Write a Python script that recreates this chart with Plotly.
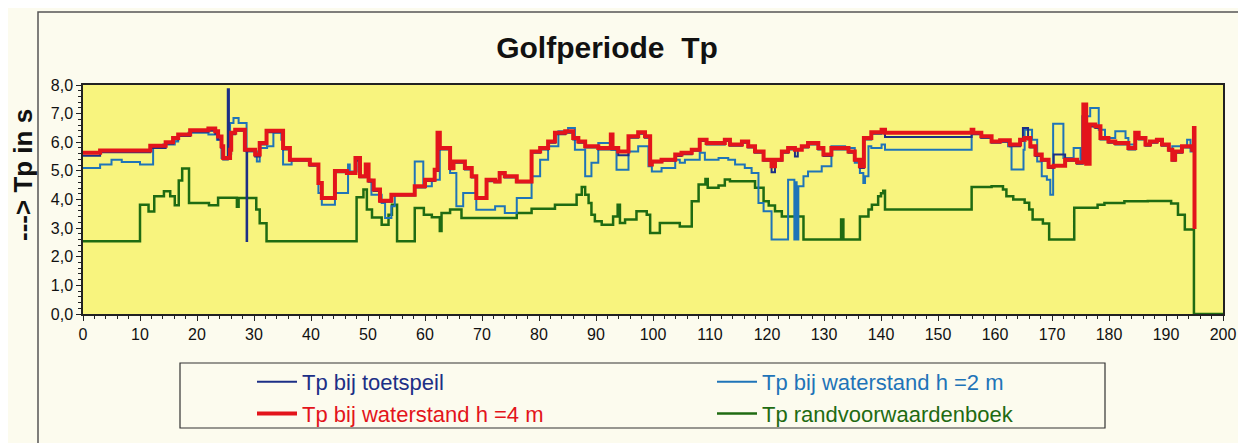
import plotly.graph_objects as go

# ---- data (step series, x = start of each step) ----
x_h4 = [0, 3.0, 11.8, 14.5, 15.8, 16.7, 18.8, 22.0, 23.2, 23.7, 24.3, 24.6, 25.8, 26.0, 26.7, 28.4, 30.2, 31.0,
        32.2, 35.1, 36.3, 39.8, 41.3, 41.9, 44.2, 46.3, 47.8, 48.6, 49.6, 50.1, 51.0, 52.1, 54.1, 58.2, 60.0,
        61.7, 62.2, 62.6, 64.4, 65.0, 67.0, 68.2, 69.0, 70.8, 72.3, 73.1, 74.0, 76.1, 78.7, 80.2, 81.6, 82.8,
        84.6, 86.0, 86.9, 88.1, 90.4, 92.6, 92.9, 93.9, 95.7, 97.4, 98.6, 99.5, 99.8, 101.5, 103.9, 105.0,
        106.8, 108.2, 109.4, 112.6, 113.5, 115.6, 116.7, 117.9, 119.4, 120.8, 121.4, 122.6, 123.7, 124.9,
        126.1, 127.2, 129.0, 129.9, 131.3, 134.3, 135.4, 136.3, 137.0, 138.3, 140.1, 140.7, 155.9, 156.2,
        157.6, 159.4, 160.9, 162.6, 164.4, 165.2, 166.2, 167.1, 168.2, 169.4, 170.3, 172.3, 174.4, 175.5,
        176.0, 176.6, 177.6, 178.5, 179.9, 181.1, 183.4, 184.6, 185.2, 186.4, 187.2, 188.4, 189.3, 190.5,
        191.1, 191.6, 192.8, 194.6, 194.9, 195.0]
y_h4 = [5.63, 5.71, 5.88, 6.0, 6.15, 6.27, 6.42, 6.48, 6.38, 6.2, 5.86, 5.45, 5.74, 6.33, 6.44, 5.74, 5.57, 5.97,
        6.4, 5.8, 5.39, 5.22, 4.58, 4.05, 5.0, 4.93, 5.45, 4.81, 5.22, 4.66, 4.35, 3.96, 4.17, 4.46, 4.69,
        5.04, 6.33, 5.8, 5.1, 5.33, 5.1, 4.81, 4.05, 4.69, 4.63, 4.93, 4.81, 4.63, 5.68, 5.8, 6.03, 6.33,
        6.38, 6.15, 6.03, 5.86, 5.8, 6.27, 5.8, 5.68, 6.21, 6.35, 6.21, 5.22, 5.33, 5.39, 5.57, 5.63,
        5.74, 6.09, 5.97, 6.09, 5.92, 6.03, 5.86, 5.68, 5.39, 5.16, 5.39, 5.68, 5.8, 5.74,
        5.86, 5.97, 5.8, 5.57, 5.8, 5.68, 5.39, 5.16, 6.15, 6.35, 6.44, 6.33, 6.44, 6.33,
        6.21, 6.03, 6.07, 5.92, 6.09, 6.15, 5.86, 5.57, 5.39, 5.14, 5.18, 5.39, 5.30, 7.32,
        5.25, 6.62, 6.56, 6.15, 6.03, 5.97, 5.8, 6.33, 6.15, 5.92, 6.03, 6.09, 5.92, 5.74,
        5.39, 5.68, 5.86, 5.74, 6.5, 2.97]

x_toets = [0, 3.0, 11.8, 14.5, 15.8, 16.7, 18.8, 22.0, 23.2, 23.7, 24.3, 24.6, 25.4, 25.6, 26.0, 26.7, 28.4, 28.7,
           28.8, 30.2, 31.0, 32.2, 35.1, 36.3, 39.8, 41.3, 41.9, 44.2, 46.3, 47.8, 48.6, 49.6, 50.1, 51.0, 52.1,
           54.1, 58.2, 60.0, 61.7, 62.3, 64.4, 65.0, 67.0, 68.2, 69.0, 70.8, 72.3, 73.1, 74.0, 76.1, 78.7,
           80.2, 81.6, 82.8, 84.6, 86.0, 86.9, 88.1, 90.4, 93.9, 95.7, 97.4, 98.6, 99.5, 99.8, 101.5, 103.9,
           105.0, 106.8, 108.2, 109.4, 112.6, 113.5, 115.6, 116.7, 117.9, 119.4, 120.8, 121.4, 122.6, 123.7,
           124.9, 125.4, 126.1, 127.2, 129.0, 129.9, 131.3, 134.3, 135.4, 136.3, 137.0, 138.3, 140.1, 140.7,
           155.9, 156.2, 157.6, 159.4, 160.9, 162.6, 164.4, 164.9, 165.8, 166.2, 167.1, 168.2, 169.4, 170.3,
           172.3, 174.4, 175.4, 176.6, 177.6, 178.5, 179.9, 181.1, 183.4, 184.6, 185.2, 186.4, 187.2, 188.4,
           189.3, 190.5, 191.1, 191.6, 192.8, 194.6, 194.9]
y_toets = [5.53, 5.65, 5.8, 5.95, 6.1, 6.22, 6.37, 6.4, 6.3, 6.1, 5.8, 5.4, 7.85, 5.6, 6.28, 6.4, 5.7, 2.55,
           5.7, 5.5, 5.92, 6.35, 5.75, 5.35, 5.18, 4.55, 4.02, 4.95, 4.9, 5.35, 4.78, 5.15, 4.62, 4.3, 3.92,
           4.14, 4.42, 4.65, 5.0, 5.75, 5.06, 5.28, 5.05, 4.77, 4.02, 4.64, 4.6, 4.88, 4.77, 4.6, 5.63,
           5.75, 5.98, 6.28, 6.33, 6.1, 5.98, 5.82, 5.75, 5.55, 6.16, 6.3, 6.16, 5.2, 5.3, 5.35, 5.52,
           5.58, 5.7, 6.04, 5.92, 6.04, 5.88, 5.98, 5.82, 5.63, 5.35, 4.95, 5.35, 5.63, 5.75,
           5.5, 5.75, 5.82, 5.92, 5.75, 5.52, 5.75, 5.63, 5.35, 5.1, 6.1, 6.3, 6.38, 6.18,
           6.38, 6.28, 6.16, 5.98, 6.02, 5.86, 6.04, 6.5, 6.1, 5.82, 5.52, 5.35, 5.1, 5.57,
           5.35, 5.25, 5.6, 6.55, 6.5, 6.1, 5.98, 5.92, 5.75, 6.28, 6.1, 5.88, 5.98, 6.04,
           5.88, 5.7, 5.35, 5.63, 5.82, 5.7, 5.7]

x_h2 = [0, 3.0, 5.0, 6.8, 10.0, 12.3, 14.1, 16.1, 16.7, 18.5, 22.0, 23.5, 24.3, 25.8, 26.4, 27.3, 28.7, 30.5,
        31.0, 32.3, 33.4, 34.8, 35.1, 36.6, 39.8, 41.3, 41.9, 44.2, 46.5, 46.8, 48.0, 48.6, 49.6, 50.1, 50.6,
        52.4, 53.0, 54.1, 54.7, 58.2, 59.7, 61.2, 62.6, 64.4, 65.5, 66.7, 69.0, 72.3, 74.0, 76.1, 78.7,
        80.2, 81.6, 83.4, 85.1, 86.3, 88.1, 89.2, 90.4, 92.7, 93.6, 95.7, 97.4, 99.2, 99.8, 101.5, 103.9,
        104.7, 105.6, 108.2, 109.1, 111.5, 113.2, 114.4, 116.1, 117.3, 118.5, 119.4, 120.8, 123.7, 124.8,
        125.0, 125.2, 125.5, 126.4, 127.2, 129.6, 131.3, 133.7, 135.4, 136.3, 136.9, 137.2, 137.8, 138.3,
        140.1, 140.7, 155.9, 157.6, 159.4, 162.3, 162.9, 165.0, 165.2, 166.5, 167.4, 168.2, 169.1, 169.7,
        170.2, 172.0, 173.8, 175.0, 175.3, 176.7, 178.2, 179.3, 181.1, 182.9, 183.4, 184.6, 185.2, 186.4,
        187.2, 188.4, 189.3, 190.5, 191.1, 193.7, 194.3, 194.9]
y_h2 = [5.1, 5.22, 5.39, 5.31, 5.22, 5.8, 5.92, 6.03, 6.27, 6.33, 6.27, 6.09, 5.45, 6.67, 6.85, 6.67, 5.68, 5.33,
        5.8, 5.86, 6.33, 6.09, 5.22, 5.39, 5.22, 4.23, 3.82, 4.23, 5.22, 4.98, 5.4, 4.81, 5.1, 4.69, 4.17,
        3.88, 3.35, 3.76, 4.17, 5.33, 4.46, 4.69, 5.8, 4.93, 3.76, 4.23, 3.64, 3.76, 3.53, 4.05, 4.81,
        5.39, 5.86, 6.38, 6.5, 5.74, 4.81, 5.28, 5.97, 5.74, 5.04, 5.68, 5.86, 5.16, 4.98, 5.1, 5.39,
        5.28, 5.39, 5.63, 5.39, 5.45, 5.39, 5.22, 5.1, 4.93, 3.88, 3.59, 2.6, 4.69, 2.6,
        4.6, 2.6, 4.46, 4.81, 4.98, 5.16, 5.86, 5.8, 5.28, 4.93, 4.58, 4.81, 5.86, 5.8,
        5.92, 5.74, 6.33, 6.15, 6.03, 5.86, 5.05, 5.74, 6.44, 6.09, 5.33, 4.81, 4.69, 4.17,
        6.65, 5.45, 5.8, 5.39, 6.91, 7.2, 6.44, 6.15, 6.38, 6.15, 5.92, 6.33, 6.15, 5.92,
        6.03, 6.09, 5.92, 5.74, 5.86, 6.09, 5.68, 5.68]

x_rvb = [0, 10.0, 11.5, 12.5, 14.2, 15.3, 16.1, 16.8, 17.4, 18.6, 22.1, 23.7, 27.0, 27.3, 30.4, 31.0, 32.2,
         48.0, 49.2, 49.8, 50.7, 52.4, 53.6, 54.2, 55.1, 58.2, 59.8, 61.2, 62.6, 62.9, 64.4, 66.4, 76.1,
         78.7, 82.8, 86.6, 87.5, 88.1, 88.7, 89.2, 89.8, 91.0, 93.0, 93.8, 94.2, 95.1, 97.1, 98.9, 99.5,
         101.2, 104.7, 106.8, 108.0, 109.2, 109.6, 111.5, 112.6, 113.5, 117.9, 119.4, 120.3, 121.4, 122.6,
         126.4, 133.0, 133.4, 136.3, 137.8, 138.4, 139.5, 140.0, 140.4, 140.7, 155.9, 159.4, 161.4, 162.0,
         163.2, 165.2, 166.0, 166.6, 168.4, 169.5, 173.9, 178.0, 179.2, 182.7, 186.8, 190.9, 192.1, 193.3,
         194.9, 200.0]
y_rvb = [2.54, 3.82, 3.58, 4.11, 4.29, 4.11, 3.8, 4.66, 5.08, 3.88, 3.8, 4.06, 3.75, 4.05, 3.65, 3.17, 2.54,
         4.08, 4.35, 3.65, 3.37, 3.12, 3.47, 3.82, 2.54, 3.7, 3.47, 3.38, 2.9, 3.53, 3.65, 3.35, 3.53,
         3.68, 3.82, 4.17, 4.44, 4.17, 3.88, 3.47, 3.24, 3.12, 3.41, 3.82, 3.18, 3.3, 3.59, 3.47, 2.83,
         3.18, 3.06, 3.94, 4.52, 4.72, 4.41, 4.49, 4.7, 4.64, 4.41, 3.94, 3.79, 3.59, 3.41,
         2.6, 3.3, 2.6, 3.41, 3.65, 3.82, 4.11, 4.22, 4.31, 3.65, 4.44, 4.46, 4.35, 4.11,
         4.0, 3.89, 3.65, 3.3, 3.16, 2.6, 3.71, 3.82, 3.88, 3.94, 3.95, 3.86, 3.47, 2.95,
         0.0, 0.0]

names = ["Tp bij toetspeil", "Tp bij waterstand h =2 m", "Tp bij waterstand h =4 m", "Tp randvoorwaardenboek"]
colors = ["#1c2f86", "#1f74b8", "#e3141b", "#1f6b12"]

FONT = "Liberation Sans, Arial, sans-serif"

fig = go.Figure()
series = [
    (x_rvb, y_rvb, 3, 2.5, 4),
    (x_h2, y_h2, 1, 2.0, 2),
    (x_toets, y_toets, 0, 2.0, 1),
    (x_h4, y_h4, 2, 4.0, 3),
]
for xs, ys, idx, w, rank in series:
    fig.add_trace(go.Scatter(
        x=xs, y=ys, mode="lines", line=dict(color=colors[idx], width=w, shape="hv"),
        name="<span style='color:%s'>%s</span>" % (colors[idx], names[idx]),
        legendrank=rank, hoverinfo="skip"))

# page offset of the figure (default body margin)
OFF = 8
W, H = 1246, 443
# plot area in page pixels: x 83..1223, y 85..314
L = 83 - OFF
T = 85 - OFF
R = W - (1223 - OFF)
B = H - (314 - OFF)
pw, ph = W - L - R, H - T - B


def px(xp):
    return (xp - OFF - L) / pw


def py(yp):
    return (H - B - (yp - OFF)) / ph


fig.update_layout(
    width=W, height=H,
    margin=dict(l=L, r=R, t=T, b=B),
    paper_bgcolor="#fcfbee",
    plot_bgcolor="#f8f47e",
    separators=",.",
    showlegend=True,
    legend=dict(orientation="h", x=px(252), y=py(361), xanchor="left", yanchor="top",
                entrywidth=405, font=dict(family=FONT, size=22),
                bgcolor="rgba(0,0,0,0)", borderwidth=0, tracegroupgap=0, itemwidth=40),
    title=dict(text="<b>Golfperiode  Tp</b>", x=(607 - OFF) / W, xanchor="center",
               y=1 - (47 - OFF) / H, yanchor="middle",
               font=dict(family=FONT, size=30, color="#111")),
    xaxis=dict(range=[0, 200], dtick=10, tick0=0, ticks="outside", ticklen=5, tickwidth=1.2,
               tickcolor="#222", showline=True, linecolor="#222", linewidth=1.5, mirror=True,
               showgrid=False, zeroline=False, tickfont=dict(family=FONT, size=16, color="#111"),
               minor=dict(dtick=2, ticks="outside", ticklen=3, tickcolor="#222", showgrid=False)),
    yaxis=dict(range=[0, 8], dtick=1, tick0=0, tickformat=".1f", ticks="outside", ticklen=5,
               tickwidth=1.2, tickcolor="#222", showline=True, linecolor="#222", linewidth=1.5,
               mirror=True, showgrid=False, zeroline=False,
               tickfont=dict(family=FONT, size=16, color="#111"),
               minor=dict(dtick=0.2, ticks="outside", ticklen=3, tickcolor="#222", showgrid=False)),
    annotations=[dict(text="<b>---> Tp in s</b>", textangle=-90, xref="paper", yref="paper",
                      x=px(23), y=py(175), xanchor="center", yanchor="middle", showarrow=False,
                      font=dict(family=FONT, size=26, color="#111"))],
    shapes=[
        dict(type="rect", xref="paper", yref="paper", x0=px(38), x1=px(1240), y0=py(470), y1=py(12),
             line=dict(color="#555", width=1.5), fillcolor="rgba(0,0,0,0)", layer="below"),
        dict(type="rect", xref="paper", yref="paper", x0=px(180), x1=px(1105), y0=py(428), y1=py(363),
             line=dict(color="#333", width=1.2), fillcolor="rgba(0,0,0,0)"),
    ],
)

fig.write_html("out.html")
